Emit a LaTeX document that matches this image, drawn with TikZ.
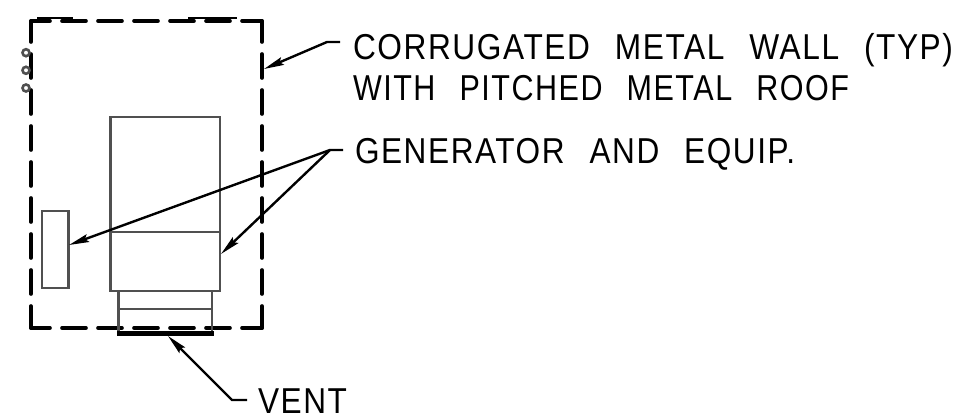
\documentclass[tikz,border=0pt]{standalone}
\usepackage{fontspec}
\usepackage{graphicx}
\setmainfont[WordSpace=2.4,LetterSpace=5]{Liberation Sans}
\usetikzlibrary{arrows.meta}
\definecolor{equip}{HTML}{505050}
\tikzset{
  x=1pt,y=-1pt,
  wall/.style={line width=3.6pt,black,line cap=round},
  equipline/.style={line width=2.6pt,equip},
  leader/.style={line width=2.4pt,black},
  tipped/.style={leader,-{Stealth[length=20pt,width=8pt,inset=3pt]}},
  label/.style={anchor=base west,inner sep=0pt,outer sep=0pt,font=\fontsize{36}{36}\selectfont},
  peg/.style={circle,draw=equip,line width=2.6pt,minimum size=7pt,inner sep=0pt}
}
\newcommand{\lab}[2]{\resizebox{#1pt}{\height}{#2}}
\begin{document}
\begin{tikzpicture}
\useasboundingbox (0,0) rectangle (962,420);
% wall
\draw[wall,dash pattern=on 24pt off 12pt,dash phase=3pt] (31,21) -- (31,328);
\draw[wall,dash pattern=on 24pt off 12pt,dash phase=3pt] (262,21) -- (262,328);
\draw[wall,dash pattern=on 24pt off 12pt,dash phase=5pt] (31,21) -- (262,21);
\draw[wall,dash pattern=on 24pt off 12pt,dash phase=5pt] (31,328) -- (262,328);
\draw[line width=2.6pt] (37,18) -- (73,18);
\draw[line width=2.6pt] (188,18) -- (237,18);
% pegs
\node[peg] (p1) at (26,52.7) {};
\node[peg] (p2) at (26,70.3) {};
\node[peg] (p3) at (26,88) {};
% equipment
\draw[equipline] (110.5,117) rectangle (220,291);
\draw[equipline] (110.5,232) -- (220,232);
\draw[equipline] (42,211) rectangle (68.7,288);
\draw[equipline] (118.7,291) -- (118.7,333);
\draw[equipline] (212,291) -- (212,333);
\draw[equipline] (118.7,309) -- (212,309);
\draw[line width=5pt] (117,333) -- (213.5,333);
% labels
\node[label] (t1) at (353,60) {\lab{600}{CORRUGATED METAL WALL (TYP)}};
\node[label] (t2) at (353,100) {\lab{496}{WITH PITCHED METAL ROOF}};
\node[label] (t3) at (355,163) {\lab{440}{GENERATOR AND EQUIP.}};
\node[label] (t4) at (258,413) {\lab{89}{VENT}};
% leaders
\coordinate (e1) at (327,42);
\coordinate (s1) at (340,42);
\coordinate (a1) at (264,69);
\coordinate (e2) at (330,150);
\coordinate (s2) at (343,150);
\coordinate (a2) at (69,245);
\coordinate (a3) at (221,254);
\coordinate (e3) at (232,400);
\coordinate (s3) at (247,400);
\coordinate (a4) at (168,336);
\draw[tipped] (s1) -- (e1) -- (a1);
\draw[tipped] (s2) -- (e2) -- (a2);
\draw[tipped] (e2) -- (a3);
\draw[tipped] (s3) -- (e3) -- (a4);
\end{tikzpicture}
\end{document}
